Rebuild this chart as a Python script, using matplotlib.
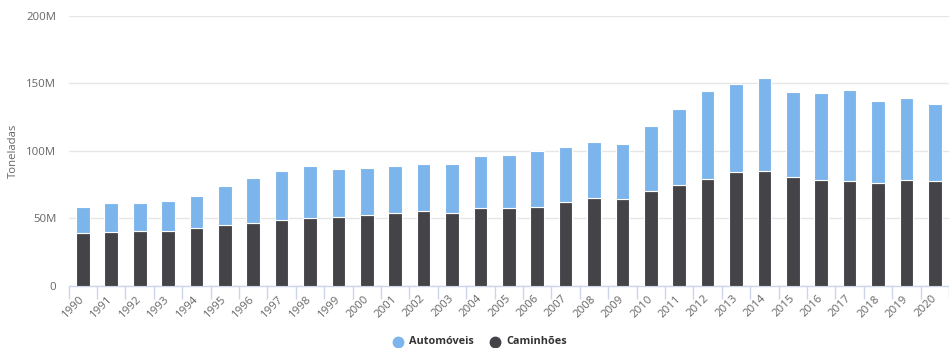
import matplotlib
matplotlib.use("Agg")
import matplotlib.pyplot as plt
from matplotlib.lines import Line2D
import numpy as np

years = [str(y) for y in range(1990, 2021)]
totais = [58.8, 61.5, 61.5, 63.0, 66.9, 74.1, 80.0, 85.4, 88.9, 86.7,
          87.4, 88.9, 90.1, 90.6, 96.0, 96.8, 100.0, 103.2, 106.7, 104.7,
          118.5, 131.1, 144.4, 149.6, 153.6, 143.7, 143.0, 145.2, 137.0, 139.0, 134.3]
caminhoes = [39.3, 40.0, 40.7, 40.7, 42.7, 45.2, 46.4, 48.6, 50.6, 51.4,
             52.6, 53.8, 55.8, 53.8, 58.0, 58.0, 58.5, 62.0, 65.2, 64.2,
             70.6, 74.6, 79.3, 84.4, 84.9, 81.0, 78.5, 77.8, 76.5, 78.5, 77.8]
automoveis = [round(t - c, 1) for t, c in zip(totais, caminhoes)]
series_names = ['Automóveis', 'Caminhões']

plt.rcParams['font.family'] = ['Open Sans', 'DejaVu Sans']

W, H = 949, 348
fig = plt.figure(figsize=(W / 100, H / 100), dpi=100)
left_px, right_px, top_px, bottom_px = 68.7, 949, 15.7, 286
ax = fig.add_axes([left_px / W, 1 - bottom_px / H, (right_px - left_px) / W, (bottom_px - top_px) / H])

x = np.arange(len(years))
blue = '#7cb5ec'
dark = '#434348'
ax.bar(x, caminhoes, width=0.48, color=dark, edgecolor='white', linewidth=0.8, zorder=3)
ax.bar(x, automoveis, bottom=caminhoes, width=0.48, color=blue, edgecolor='white', linewidth=0.8, zorder=3)

step = 28.51
ncat = (right_px - left_px) / step
ax.set_xlim(-0.5, -0.5 + ncat)
ax.set_ylim(0, 200)

ax.set_yticks([0, 50, 100, 150, 200])
ax.set_yticklabels(['0', '50M', '100M', '150M', '200M'])
ax.yaxis.grid(True, color='#e6e6e6', linewidth=1, zorder=0)
ax.tick_params(axis='y', length=0, pad=9, labelsize=8.2, labelcolor='#666666')

ax.set_xticks(x)
ax.set_xticklabels(years, rotation=45, ha='right', va='center', rotation_mode='anchor')
ax.tick_params(axis='x', which='major', length=0, pad=8, labelsize=8.2, labelcolor='#666666')
ax.set_xticks(np.arange(-0.5, len(years), 1.0), minor=True)
ax.tick_params(axis='x', which='minor', length=9, width=1, color='#ccd6eb')

for s in ['top', 'right', 'left']:
    ax.spines[s].set_visible(False)
ax.spines['bottom'].set_color('#ccd6eb')
ax.spines['bottom'].set_linewidth(1)

ax.set_ylabel('Toneladas', fontsize=8.2, color='#666666')
ax.yaxis.set_label_coords((19 - left_px) / (right_px - left_px), (bottom_px - 151) / (bottom_px - top_px))

# legend (manual placement)
leg_y = 1 - 342 / H
for cx, tx, col, name in [(398, 409, blue, series_names[0]), (495, 506, dark, series_names[1])]:
    fig.add_artist(Line2D([cx / W], [leg_y], marker='o', markersize=7.5, color=col,
                          linestyle='', transform=fig.transFigure))
    fig.text(tx / W, leg_y, name, ha='left', va='center', fontsize=7.8, fontweight='bold', color='#333333')

fig.savefig('out.png', dpi=100)
